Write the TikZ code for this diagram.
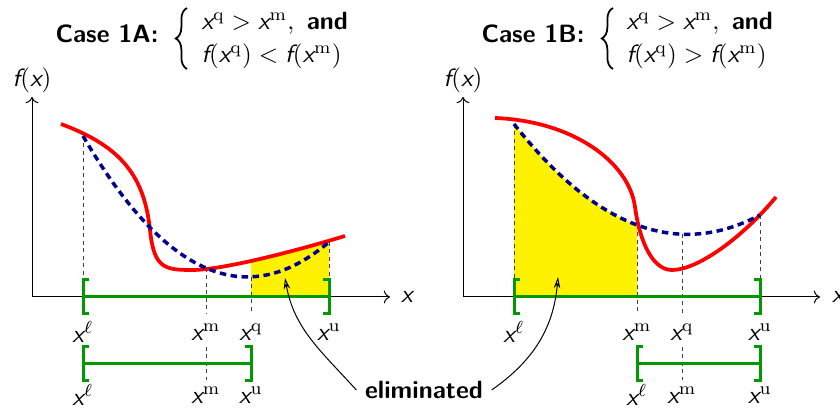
\documentclass[tikz,border=0pt]{standalone}
\usepackage{amsmath}
\usetikzlibrary{arrows.meta,decorations.pathreplacing}

\definecolor{dkgreen}{rgb}{0,0.6,0}
\definecolor{navy}{rgb}{0,0,0.55}

\newcommand{\sx}{\text{\normalfont\sffamily\itshape x}}
\newcommand{\sfn}{\text{\normalfont\sffamily\itshape f}}

% interval with square brackets: left end, right end, height
\newcommand{\intbar}[3]{%
  \draw[bracket] ({#1+6},{#3+17}) -- (#1,{#3+17}) -- (#1,{#3-17}) -- ({#1+6},{#3-17});
  \draw[bracket] ({#2-6},{#3+17}) -- (#2,{#3+17}) -- (#2,{#3-17}) -- ({#2-6},{#3-17});
  \draw[bracket] (#1,#3) -- (#2,#3);}

\tikzset{
  redcurve/.style={red, line width=1.5pt},
  quadfit/.style={navy, line width=1.4pt, dash pattern=on 2.6pt off 1.8pt},
  guide/.style={black!75, line width=0.4pt, dash pattern=on 1.6pt off 1.4pt},
  bracket/.style={dkgreen, line width=1.2pt},
  axis/.style={line width=0.4pt, ->},
  elimarrow/.style={line width=0.4pt, -{Stealth[open, fill=white, length=4.5pt, width=2.6pt]}},
  casetitle/.style={font=\bfseries\sffamily},
  conds/.style={anchor=west, inner sep=0pt},
  condbrace/.style={line width=0.7pt, decorate, decoration={brace, amplitude=4.5pt}},
  redA/.style={insert path={.. controls (85,152) and (112,125) .. (118,67)
      .. controls (122,29) and (132,27) .. (160,27)
      .. controls (190,27) and (260,45) .. (313,61)}},
  redB/.style={insert path={.. controls (110,176) and (166,135) .. (172,90)
      .. controls (177,54) and (190,27) .. (209,27)
      .. controls (235,27) and (280,60) .. (313,100)}},
}
\renewcommand{\arraystretch}{1.1}

\begin{document}
\begin{tikzpicture}[x=0.4pt, y=0.4pt]
\useasboundingbox (0,0) rectangle (840,411);

\node[casetitle] (caseA) at (107,377) {Case 1A:};
\node[conds] (condA) at (201,372) {$\begin{array}{@{}l@{}}
  \sx^{\mathrm{q}} > \sx^{\mathrm{m}},\ \text{\bfseries\sffamily and}\\
  \sfn(\sx^{\mathrm{q}}) < \sfn(\sx^{\mathrm{m}})\end{array}$};
\draw[condbrace] (187,342) -- (187,403);

\node[casetitle] (caseB) at (533,377) {Case 1B:};
\node[conds] (condB) at (626,372) {$\begin{array}{@{}l@{}}
  \sx^{\mathrm{q}} > \sx^{\mathrm{m}},\ \text{\bfseries\sffamily and}\\
  \sfn(\sx^{\mathrm{q}}) > \sfn(\sx^{\mathrm{m}})\end{array}$};
\draw[condbrace] (613,342) -- (613,403);

% ---- case 1A
\begin{scope}[shift={(32,114)}]
\begin{scope}
\clip (219,0) rectangle (297,250);
\fill[yellow] (29,0) -- (29,173) [redA] -- (313,0) -- cycle;
\end{scope}

\coordinate (flA) at (51,161);
\coordinate (fmA) at (174,29);
\coordinate (fqA) at (219,20);
\coordinate (fuA) at (297,55);

\draw[guide] (flA) -- (51,17);
\draw[guide] (fmA) -- (174,-17);
\draw[guide] (fqA) -- (219,-17);
\draw[guide] (fuA) -- (297,17);
\draw[guide] (174,-50) -- (174,-83);

\draw[axis] (0,0) -- (0,200);
\draw[axis] (0,0) -- (358,0);
\node at (0,217) {$\sfn(\sx)$};
\node at (375,0) {$\sx$};

\draw[redcurve] (29,173) [redA];
\draw[quadfit] (flA) .. controls (133,20.3) and (215,-15) .. (fuA);

\intbar{51}{297}{0}
\intbar{51}{219}{-67}

\node (xlA) at (51,-35) {$\sx^{\ell}$};
\node (xmA) at (174,-35) {$\sx^{\mathrm{m}}$};
\node (xqA) at (219,-35) {$\sx^{\mathrm{q}}$};
\node (xuA) at (297,-35) {$\sx^{\mathrm{u}}$};
\node (xlA2) at (51,-98) {$\sx^{\ell}$};
\node (xmA2) at (174,-98) {$\sx^{\mathrm{m}}$};
\node (xuA2) at (219,-98) {$\sx^{\mathrm{u}}$};

\coordinate (tipA) at (253,19);
\end{scope}

% ---- case 1B
\begin{scope}[shift={(463,114)}]
\begin{scope}
\clip (51,0) rectangle (174,250);
\fill[yellow] (51,0) -- (51,173) .. controls (133,68.7) and (215,38.3) .. (297,82) -- (297,0) -- cycle;
\end{scope}

\coordinate (flB) at (51,173);
\coordinate (fmB) at (174,72);
\coordinate (fqB) at (219,63);
\coordinate (fuB) at (297,82);

\draw[guide] (flB) -- (51,17);
\draw[guide] (fmB) -- (174,-17);
\draw[guide] (fqB) -- (219,-17);
\draw[guide] (fuB) -- (297,17);
\draw[guide] (219,-50) -- (219,-83);

\draw[axis] (0,0) -- (0,200);
\draw[axis] (0,0) -- (357,0);
\node at (0,217) {$\sfn(\sx)$};
\node at (375,0) {$\sx$};

\draw[redcurve] (32,179) [redB];
\draw[quadfit] (flB) .. controls (133,68.7) and (215,38.3) .. (fuB);

\intbar{51}{297}{0}
\intbar{174}{297}{-67}

\node (xlB) at (51,-35) {$\sx^{\ell}$};
\node (xmB) at (174,-35) {$\sx^{\mathrm{m}}$};
\node (xqB) at (219,-35) {$\sx^{\mathrm{q}}$};
\node (xuB) at (297,-35) {$\sx^{\mathrm{u}}$};
\node (xlB2) at (174,-98) {$\sx^{\ell}$};
\node (xmB2) at (219,-98) {$\sx^{\mathrm{m}}$};
\node (xuB2) at (297,-98) {$\sx^{\mathrm{u}}$};

\coordinate (tipB) at (95,20);
\end{scope}

\node[casetitle] (elim) at (424,21) {eliminated};
\draw[elimarrow] (elim.west) to[out=132, in=-80] (tipA);
\draw[elimarrow] (elim.east) to[out=35, in=-95] (tipB);

\end{tikzpicture}
\end{document}
